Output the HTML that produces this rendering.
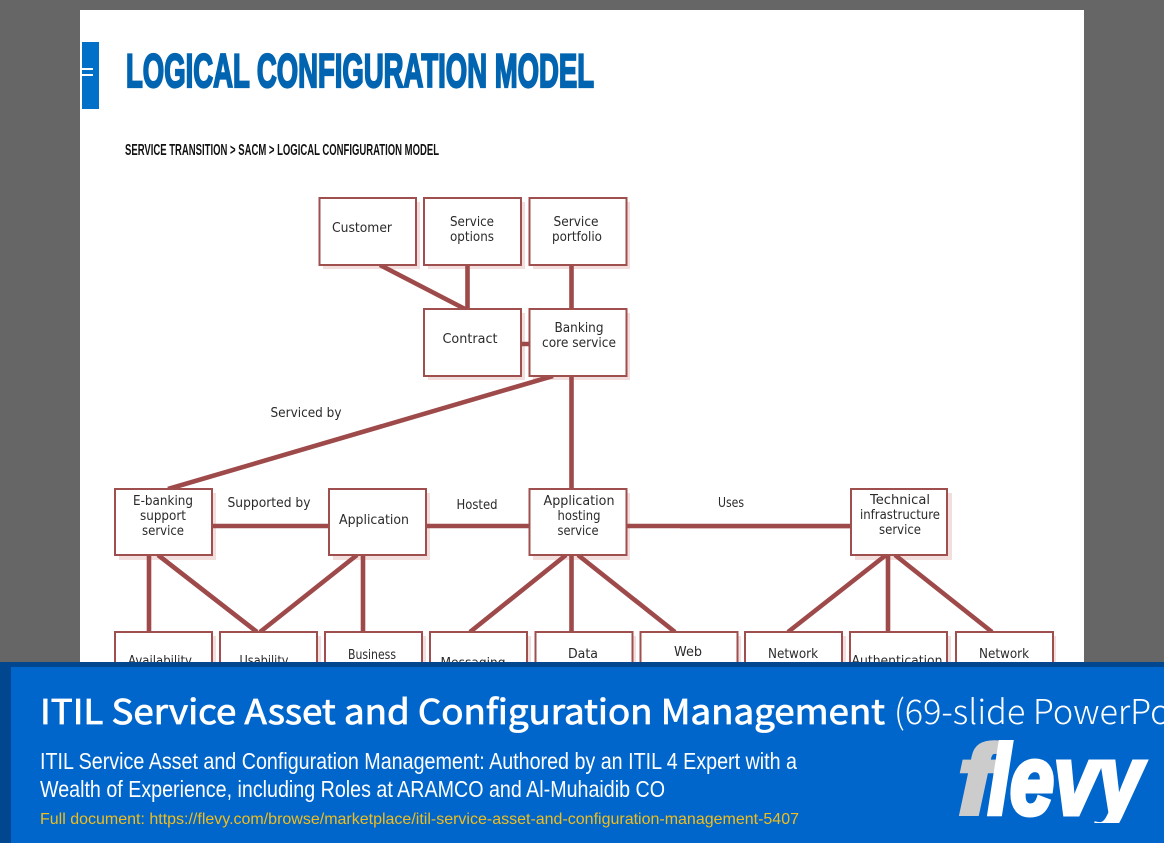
<!DOCTYPE html>
<html><head><meta charset="utf-8"><title>Logical Configuration Model</title>
<style>
html,body{margin:0;padding:0;background:#666;width:1164px;height:843px;overflow:hidden}
svg{display:block}
.n{font-family:"DejaVu Sans","Liberation Sans",sans-serif;font-size:13px;fill:#2a2a2a}
.l{stroke:#9e4a4a;stroke-width:4.6;fill:none}
.b{fill:#fff;stroke:#a04f4f;stroke-width:2}
.s{fill:#f2dedd}
</style></head><body>
<svg width="1164" height="843" viewBox="0 0 1164 843" xmlns="http://www.w3.org/2000/svg">
<rect width="1164" height="843" fill="#666"/>
<rect x="80" y="10" width="1004" height="700" fill="#fff"/>
<rect x="82" y="42" width="17" height="67" fill="#0070c8"/>
<rect x="82" y="68" width="11" height="2" fill="#fff"/><rect x="82" y="74" width="11" height="2" fill="#fff"/>
<text x="126" y="87" font-family="'Liberation Sans',sans-serif" font-weight="700" font-size="47" fill="#0064b0" stroke="#0064b0" stroke-width="2.2" textLength="468" lengthAdjust="spacingAndGlyphs">LOGICAL CONFIGURATION MODEL</text>
<text x="125" y="155" font-family="'Liberation Sans',sans-serif" font-weight="700" font-size="16" fill="#111" textLength="314" lengthAdjust="spacingAndGlyphs">SERVICE TRANSITION &gt; SACM &gt; LOGICAL CONFIGURATION MODEL</text>

<g class="s">
<rect x="323" y="202" width="97" height="67"/><rect x="428" y="202" width="97" height="67"/><rect x="533" y="202" width="97" height="67"/>
<rect x="428" y="313" width="97" height="67"/><rect x="533" y="313" width="97" height="67"/>
<rect x="119" y="493" width="97" height="67"/><rect x="333" y="493" width="97" height="67"/><rect x="533" y="493" width="97" height="67"/><rect x="855" y="493" width="97" height="67"/>
<rect x="119" y="636" width="97" height="60"/><rect x="224" y="636" width="97" height="60"/><rect x="329" y="636" width="97" height="60"/><rect x="434" y="636" width="97" height="60"/><rect x="539" y="636" width="97" height="60"/><rect x="644" y="636" width="97" height="60"/><rect x="749" y="636" width="97" height="60"/><rect x="854" y="636" width="97" height="60"/><rect x="959" y="636" width="97" height="60"/>
<rect x="680" y="526" width="171" height="3"/>
</g>

<g class="l">
<path d="M380 265L465 309M467.500 265V309M571.500 265V309M521 344H529M553 376L168 489M571.500 376V489"/>
<path d="M212 526H329M426 526H529M626 526H851"/>
<path d="M149 555V632M158 555L257 632M357 555L260 632M363 555V632"/>
<path d="M566 555L470 632M571.500 555V632M578 555L675 632"/>
<path d="M886 555L788 632M888 555V632M895 555L992 632"/>
</g>

<g class="b">
<rect x="319.500" y="198" width="96.500" height="67"/><rect x="424" y="198" width="97" height="67"/><rect x="529.500" y="198" width="97" height="67"/>
<rect x="424" y="309" width="97" height="67"/><rect x="529.500" y="309" width="97" height="67"/>
<rect x="115" y="489" width="97" height="66"/><rect x="329" y="489" width="97" height="66"/><rect x="529.500" y="489" width="97" height="66"/><rect x="851" y="489" width="96" height="66"/>
<rect x="115" y="632" width="97" height="60"/><rect x="220" y="632" width="97" height="60"/><rect x="325" y="632" width="97" height="60"/><rect x="430" y="632" width="97" height="60"/><rect x="535.500" y="632" width="97" height="60"/><rect x="640.500" y="632" width="97" height="60"/><rect x="745" y="632" width="97" height="60"/><rect x="850" y="632" width="97" height="60"/><rect x="956" y="632" width="97" height="60"/>
</g>

<g class="n" text-anchor="middle">
<text x="362" y="232" textLength="60" lengthAdjust="spacingAndGlyphs">Customer</text>
<text x="472" y="226" textLength="44" lengthAdjust="spacingAndGlyphs">Service</text>
<text x="472" y="241" textLength="44" lengthAdjust="spacingAndGlyphs">options</text>
<text x="576" y="226" textLength="45" lengthAdjust="spacingAndGlyphs">Service</text>
<text x="577" y="241" textLength="50" lengthAdjust="spacingAndGlyphs">portfolio</text>
<text x="470" y="343" textLength="55" lengthAdjust="spacingAndGlyphs">Contract</text>
<text x="579" y="332" textLength="49" lengthAdjust="spacingAndGlyphs">Banking</text>
<text x="579" y="347" textLength="74" lengthAdjust="spacingAndGlyphs">core service</text>
<text x="306" y="417" textLength="71" lengthAdjust="spacingAndGlyphs">Serviced by</text>
<text x="163" y="505" textLength="60" lengthAdjust="spacingAndGlyphs">E-banking</text>
<text x="163" y="520" textLength="46" lengthAdjust="spacingAndGlyphs">support</text>
<text x="163" y="535" textLength="42" lengthAdjust="spacingAndGlyphs">service</text>
<text x="269" y="507" textLength="83" lengthAdjust="spacingAndGlyphs">Supported by</text>
<text x="374" y="524" textLength="70" lengthAdjust="spacingAndGlyphs">Application</text>
<text x="477" y="509" textLength="41" lengthAdjust="spacingAndGlyphs">Hosted</text>
<text x="579" y="505" textLength="71" lengthAdjust="spacingAndGlyphs">Application</text>
<text x="579" y="520" textLength="43" lengthAdjust="spacingAndGlyphs">hosting</text>
<text x="578" y="535" textLength="41" lengthAdjust="spacingAndGlyphs">service</text>
<text x="731" y="507" textLength="26" lengthAdjust="spacingAndGlyphs">Uses</text>
<text x="900" y="504" textLength="60" lengthAdjust="spacingAndGlyphs">Technical</text>
<text x="900" y="519" textLength="80" lengthAdjust="spacingAndGlyphs">infrastructure</text>
<text x="900" y="534" textLength="42" lengthAdjust="spacingAndGlyphs">service</text>
<text x="160" y="665" textLength="64" lengthAdjust="spacingAndGlyphs">Availability</text>
<text x="264" y="665" textLength="49" lengthAdjust="spacingAndGlyphs">Usability</text>
<text x="372" y="659" textLength="48" lengthAdjust="spacingAndGlyphs">Business</text>
<text x="473" y="667" textLength="65" lengthAdjust="spacingAndGlyphs">Messaging</text>
<text x="583" y="658" textLength="30" lengthAdjust="spacingAndGlyphs">Data</text>
<text x="688" y="656" textLength="28" lengthAdjust="spacingAndGlyphs">Web</text>
<text x="793" y="658" textLength="50" lengthAdjust="spacingAndGlyphs">Network</text>
<text x="897" y="665" textLength="91" lengthAdjust="spacingAndGlyphs">Authentication</text>
<text x="1004" y="658" textLength="50" lengthAdjust="spacingAndGlyphs">Network</text>
</g>

<rect x="0" y="662" width="1164" height="181" fill="#00478f"/>
<rect x="11" y="667" width="1153" height="176" fill="#0066cc"/>
<text x="40" y="724" font-family="'Noto Sans CJK JP','DejaVu Sans',sans-serif" font-weight="400" font-size="34" fill="#fff" stroke="#fff" stroke-width="0.8" textLength="845" lengthAdjust="spacingAndGlyphs">ITIL Service Asset and Configuration Management</text>
<text x="894" y="724" font-family="'Noto Sans CJK JP','DejaVu Sans',sans-serif" font-weight="300" font-size="34" fill="#fff" textLength="410" lengthAdjust="spacingAndGlyphs">(69-slide PowerPoint deck)</text>
<text x="40" y="769" font-family="'Liberation Sans',sans-serif" font-size="23" fill="#fff" textLength="757" lengthAdjust="spacingAndGlyphs">ITIL Service Asset and Configuration Management: Authored by an ITIL 4 Expert with a</text>
<text x="40" y="797" font-family="'Liberation Sans',sans-serif" font-size="23" fill="#fff" textLength="625" lengthAdjust="spacingAndGlyphs">Wealth of Experience, including Roles at ARAMCO and Al-Muhaidib CO</text>
<text x="40" y="824" font-family="'Liberation Sans',sans-serif" font-size="16" fill="#f0bd1c" textLength="759" lengthAdjust="spacingAndGlyphs">Full document: https://flevy.com/browse/marketplace/itil-service-asset-and-configuration-management-5407</text>

<clipPath id="c"><rect x="940" y="735" width="220" height="88"/></clipPath>
<g clip-path="url(#c)" font-family="'Liberation Sans',sans-serif" font-weight="700" font-style="italic" font-size="98">
<text x="958" y="814" fill="#ccc" stroke="#ccc" stroke-width="4.500" textLength="36" lengthAdjust="spacingAndGlyphs">f</text>
<text x="988" y="814" fill="#fff" stroke="#fff" stroke-width="5" textLength="154" lengthAdjust="spacingAndGlyphs">levy</text>
</g>
</svg>
</body></html>
